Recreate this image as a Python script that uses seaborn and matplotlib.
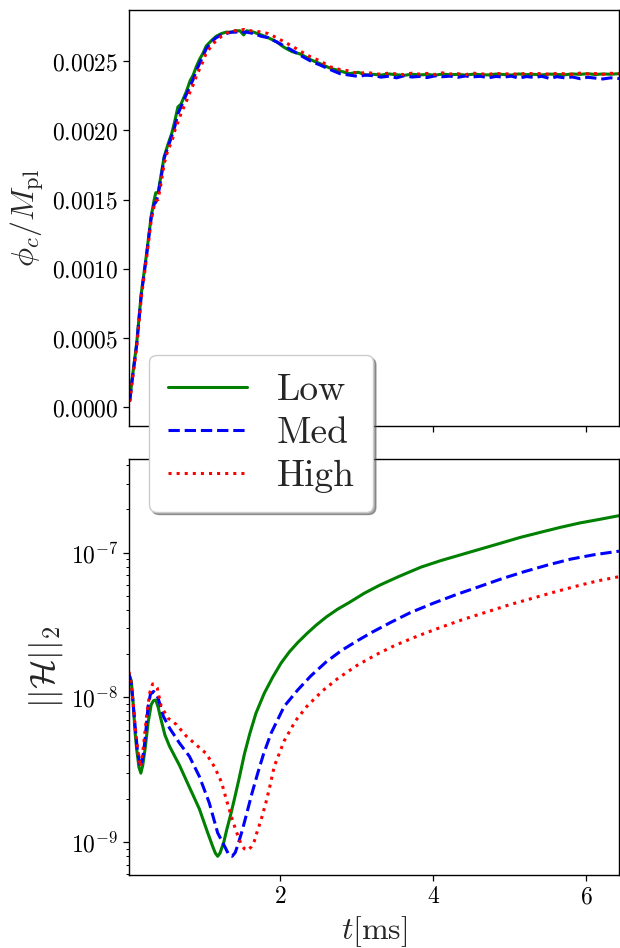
import numpy as np
import pandas as pd
import matplotlib
matplotlib.use("Agg")
import matplotlib.pyplot as plt
from matplotlib.ticker import FuncFormatter, LogLocator, NullFormatter, FixedLocator
from matplotlib.font_manager import FontProperties
import seaborn as sns

# ---------------- data: top panel (phi_c / M_pl) ----------------
t_phi = [0.03, 0.06, 0.12, 0.18, 0.25, 0.31, 0.35, 0.37, 0.40, 0.44, 0.48, 0.53, 0.58,
         0.62, 0.66, 0.70, 0.77, 0.82, 0.86, 0.90, 0.94, 0.99, 1.03, 1.10, 1.16, 1.23,
         1.29, 1.36, 1.42, 1.47, 1.52, 1.56, 1.65, 1.75, 1.84, 1.95, 2.05, 2.15, 2.27,
         2.40, 2.53, 2.65, 2.78, 2.90, 3.02, 3.12,
         3.22, 3.32, 3.42, 3.52, 3.62, 3.72, 3.82, 3.92, 4.02, 4.12, 4.22, 4.32, 4.42,
         4.52, 4.62, 4.72, 4.82, 4.92, 5.02, 5.12, 5.22, 5.32, 5.42, 5.52, 5.62, 5.72,
         5.82, 5.92, 6.02, 6.12, 6.22, 6.32, 6.43]
phi_low = [0.00005, 0.00020, 0.00046, 0.00082, 0.00111, 0.00138, 0.00150, 0.00155, 0.00155,
           0.00168, 0.00181, 0.00190, 0.00198, 0.00207, 0.00217, 0.00219, 0.00228, 0.00236,
           0.00240, 0.00246, 0.00251, 0.00256, 0.00261, 0.00265, 0.00268, 0.00270, 0.00271,
           0.00271, 0.00272, 0.00272, 0.00269, 0.00272, 0.00271, 0.00269, 0.00267, 0.00264,
           0.00260, 0.00257, 0.00255, 0.00251, 0.00248, 0.00245, 0.00243, 0.00241, 0.00242,
           0.00240,
           0.002405, 0.002400, 0.002408, 0.002402, 0.002398, 0.002406, 0.002401, 0.002404,
           0.002399, 0.002407, 0.002402, 0.002405, 0.002400, 0.002406, 0.002403, 0.002401,
           0.002407, 0.002404, 0.002400, 0.002408, 0.002403, 0.002405, 0.002401, 0.002407,
           0.002404, 0.002402, 0.002408, 0.002405, 0.002410, 0.002404, 0.002408, 0.002406,
           0.002410]
phi_med = [0.00005, 0.00019, 0.00045, 0.00081, 0.00110, 0.00137, 0.00147, 0.00148, 0.00153,
           0.00166, 0.00180, 0.00188, 0.00196, 0.00203, 0.00212, 0.00217, 0.00226, 0.00232,
           0.00237, 0.00243, 0.00248, 0.00254, 0.00259, 0.00264, 0.00267, 0.00269, 0.00270,
           0.00271, 0.00271, 0.00272, 0.00271, 0.00271, 0.00270, 0.00268, 0.00267, 0.00264,
           0.00261, 0.00258, 0.00254, 0.00250, 0.00247, 0.00244, 0.00241, 0.00240, 0.00239,
           0.00240,
           0.002395, 0.002385, 0.002392, 0.002380, 0.002395, 0.002386, 0.002390, 0.002382,
           0.002394, 0.002388, 0.002392, 0.002384, 0.002393, 0.002387, 0.002391, 0.002380,
           0.002390, 0.002385, 0.002392, 0.002378, 0.002389, 0.002383, 0.002391, 0.002376,
           0.002388, 0.002380, 0.002386, 0.002374, 0.002384, 0.002378, 0.002372, 0.002380,
           0.002375]
phi_high = [0.00004, 0.00018, 0.00043, 0.00079, 0.00108, 0.00135, 0.00146, 0.00149, 0.00150,
            0.00162, 0.00176, 0.00186, 0.00192, 0.00200, 0.00206, 0.00212, 0.00221, 0.00228,
            0.00233, 0.00239, 0.00244, 0.00250, 0.00256, 0.00261, 0.00265, 0.00268, 0.00270,
            0.00272, 0.00272, 0.00272, 0.00273, 0.00272, 0.00272, 0.00271, 0.00270, 0.00267,
            0.00264, 0.00261, 0.00257, 0.00253, 0.00250, 0.00246, 0.00244, 0.00243, 0.00241,
            0.00242,
            0.002412, 0.002405, 0.002415, 0.002408, 0.002403, 0.002414, 0.002407, 0.002412,
            0.002404, 0.002416, 0.002408, 0.002410, 0.002403, 0.002414, 0.002409, 0.002405,
            0.002413, 0.002407, 0.002411, 0.002404, 0.002415, 0.002408, 0.002412, 0.002405,
            0.002413, 0.002409, 0.002406, 0.002414, 0.002408, 0.002411, 0.002405, 0.002413,
            0.002410]

# ---------------- data: bottom panel (||H||_2) ----------------
t_h_low = [0.02, 0.05, 0.075, 0.10, 0.12, 0.15, 0.175, 0.20, 0.23, 0.27, 0.31, 0.34, 0.37,
           0.40, 0.44, 0.49, 0.55, 0.68, 0.81, 0.94, 1.05, 1.12, 1.15, 1.18, 1.21, 1.26,
           1.30, 1.35, 1.40, 1.46, 1.53, 1.60, 1.68, 1.79, 1.90, 2.01, 2.12, 2.23, 2.35,
           2.47, 2.60, 2.75, 2.90, 3.10, 3.30, 3.55, 3.84, 4.10, 4.36, 4.62, 4.88, 5.14,
           5.40, 5.66, 5.92, 6.18, 6.43]
h_low = [1.45e-8, 1.3e-8, 9.0e-9, 5.7e-9, 4.4e-9, 3.3e-9, 3.0e-9, 3.4e-9, 4.4e-9, 6.7e-9,
         8.9e-9, 9.5e-9, 9.6e-9, 8.6e-9, 7.0e-9, 5.5e-9, 4.6e-9, 3.4e-9, 2.4e-9, 1.7e-9,
         1.16e-9, 9.2e-10, 8.4e-10, 8.0e-10, 8.4e-10, 1.0e-9, 1.23e-9, 1.55e-9, 2.0e-9,
         2.75e-9, 4.07e-9, 5.62e-9, 7.76e-9, 1.07e-8, 1.38e-8, 1.73e-8, 2.07e-8, 2.40e-8,
         2.77e-8, 3.16e-8, 3.59e-8, 4.07e-8, 4.52e-8, 5.25e-8, 5.96e-8, 6.84e-8, 7.94e-8,
         8.81e-8, 9.66e-8, 1.059e-7, 1.161e-7, 1.274e-7, 1.380e-7, 1.493e-7, 1.603e-7,
         1.698e-7, 1.799e-7]
t_h_med = [0.02, 0.05, 0.075, 0.10, 0.13, 0.17, 0.20, 0.23, 0.27, 0.30, 0.34, 0.37, 0.40,
           0.44, 0.47, 0.55, 0.68, 0.81, 0.94, 1.07, 1.18, 1.27, 1.32, 1.37, 1.41, 1.45,
           1.50, 1.56, 1.63, 1.70, 1.78, 1.88, 2.05, 2.23, 2.40, 2.60, 2.80, 3.00, 3.20,
           3.45, 3.70, 4.00, 4.30, 4.60, 4.90, 5.20, 5.50, 5.80, 6.10, 6.43]
h_med = [1.45e-8, 1.25e-8, 9.0e-9, 6.3e-9, 4.3e-9, 3.3e-9, 3.8e-9, 5.1e-9, 8.7e-9, 1.05e-8,
         1.10e-8, 1.07e-8, 9.9e-9, 8.4e-9, 7.4e-9, 6.15e-9, 4.84e-9, 3.92e-9, 2.85e-9,
         1.87e-9, 1.16e-9, 9.4e-10, 8.3e-10, 8.0e-10, 8.5e-10, 9.8e-10, 1.2e-9, 1.58e-9,
         2.19e-9, 2.95e-9, 4.07e-9, 5.68e-9, 8.67e-9, 1.13e-8, 1.41e-8, 1.76e-8, 2.11e-8,
         2.45e-8, 2.82e-8, 3.31e-8, 3.85e-8, 4.47e-8, 5.13e-8, 5.82e-8, 6.61e-8, 7.41e-8,
         8.22e-8, 9.02e-8, 9.66e-8, 1.023e-7]
t_h_high = [0.02, 0.05, 0.075, 0.10, 0.13, 0.17, 0.205, 0.25, 0.29, 0.33, 0.36, 0.39, 0.44,
            0.53, 0.64, 0.77, 0.94, 1.03, 1.14, 1.23, 1.29, 1.36, 1.42, 1.49, 1.53, 1.575,
            1.62, 1.66, 1.70, 1.75, 1.81, 1.86, 1.92, 2.05, 2.20, 2.35, 2.55, 2.75, 3.00,
            3.25, 3.50, 3.80, 4.10, 4.40, 4.70, 5.00, 5.30, 5.60, 5.90, 6.15, 6.43]
h_high = [1.5e-8, 1.25e-8, 9.0e-9, 6.3e-9, 4.5e-9, 3.3e-9, 4.4e-9, 7.4e-9, 1.07e-8, 1.24e-8,
          1.22e-8, 1.16e-8, 8.7e-9, 7.2e-9, 6.5e-9, 5.4e-9, 4.5e-9, 4.1e-9, 3.3e-9, 2.6e-9,
          2.0e-9, 1.5e-9, 1.2e-9, 9.6e-10, 9.0e-10, 8.8e-10, 9.3e-10, 1.02e-9, 1.2e-9,
          1.44e-9, 1.87e-9, 2.4e-9, 3.34e-9, 5.01e-9, 6.92e-9, 8.71e-9, 1.109e-8, 1.35e-8,
          1.66e-8, 1.97e-8, 2.29e-8, 2.66e-8, 3.05e-8, 3.47e-8, 3.89e-8, 4.37e-8, 4.84e-8,
          5.37e-8, 5.92e-8, 6.38e-8, 6.82e-8]

labels = ["Low", "Med", "High"]
x_ticks = [2, 4, 6]
phi_ticks = [0.0, 0.0005, 0.0010, 0.0015, 0.0020, 0.0025]

# ---------------- style ----------------
sns.set_style("ticks")
plt.rcParams.update({
    "font.family": ["DejaVu Serif"],
    "mathtext.fontset": "cm",
    "axes.edgecolor": "black",
    "axes.linewidth": 1.0,
    "xtick.color": "black",
    "ytick.color": "black",
    "xtick.direction": "out",
    "ytick.direction": "out",
    "xtick.major.size": 4,
    "ytick.major.size": 4,
    "ytick.minor.size": 2.5,
    "xtick.major.width": 0.9,
    "ytick.major.width": 0.9,
    "ytick.minor.width": 0.7,
})

LW = 2.2
styles = [dict(color="green", linestyle="-"),
          dict(color="blue", linestyle="--"),
          dict(color="red", linestyle=":")]

W, H = 620, 948
fig = plt.figure(figsize=(W / 100, H / 100), dpi=100)
ax1 = fig.add_axes([129 / W, 1 - 426 / H, 490 / W, 416 / H])
ax2 = fig.add_axes([129 / W, 1 - 875 / H, 490 / W, 416 / H], sharex=ax1)

phi_series = [phi_low, phi_med, phi_high]
for lab, vals, st in zip(labels, phi_series, styles):
    df = pd.DataFrame({"t": t_phi, "v": vals})
    sns.lineplot(data=df, x="t", y="v", ax=ax1, lw=LW, label=lab,
                 estimator=None, sort=False, legend=False, **st)

h_series = [(t_h_low, h_low), (t_h_med, h_med), (t_h_high, h_high)]
for lab, (tt, vals), st in zip(labels, h_series, styles):
    df = pd.DataFrame({"t": tt, "v": vals})
    sns.lineplot(data=df, x="t", y="v", ax=ax2, lw=LW, label=lab,
                 estimator=None, sort=False, legend=False, **st)

ax1.set_xlim(0.02, 6.43)
ax1.set_ylim(-0.000135, 0.00287)
ax1.yaxis.set_major_locator(FixedLocator(phi_ticks))
ax1.yaxis.set_major_formatter(FuncFormatter(lambda v, p: r"$%.4f$" % v))
ax1.xaxis.set_major_locator(FixedLocator(x_ticks))
ax1.tick_params(axis="x", labelbottom=False)
ax1.set_xlabel(None)
ax1.set_ylabel(r"$\phi_c/M_{\rm pl}$", fontsize=23)

ax2.set_yscale("log")
ax2.set_ylim(5.94e-10, 4.43e-7)
ax2.yaxis.set_major_locator(LogLocator(base=10, numticks=10))
ax2.yaxis.set_minor_locator(LogLocator(base=10, subs=np.arange(2, 10), numticks=20))
ax2.yaxis.set_major_formatter(FuncFormatter(lambda v, p: r"$10^{%d}$" % int(round(np.log10(v)))))
ax2.yaxis.set_minor_formatter(NullFormatter())
ax2.xaxis.set_major_formatter(FuncFormatter(lambda v, p: r"$%d$" % v))
ax2.set_xlabel(r"$t[{\rm ms}]$", fontsize=23)
ax2.set_ylabel(r"$||\mathcal{H}||_2$", fontsize=25)

for ax in (ax1, ax2):
    ax.tick_params(axis="both", which="major", labelsize=17)
    for s in ax.spines.values():
        s.set_visible(True)
        s.set_color("black")

handles = ax1.get_lines()[:3]
fig.legend(handles, labels, loc="upper left",
           bbox_to_anchor=(149 / W, 1 - 355 / H), borderaxespad=0,
           prop=FontProperties(family="cmr10", size=27),
           labelspacing=0.26, borderpad=0.5, handlelength=2.1, handletextpad=0.8,
           fancybox=True, shadow=True, framealpha=1.0, edgecolor="0.8")

fig.savefig("out.png", dpi=100)
